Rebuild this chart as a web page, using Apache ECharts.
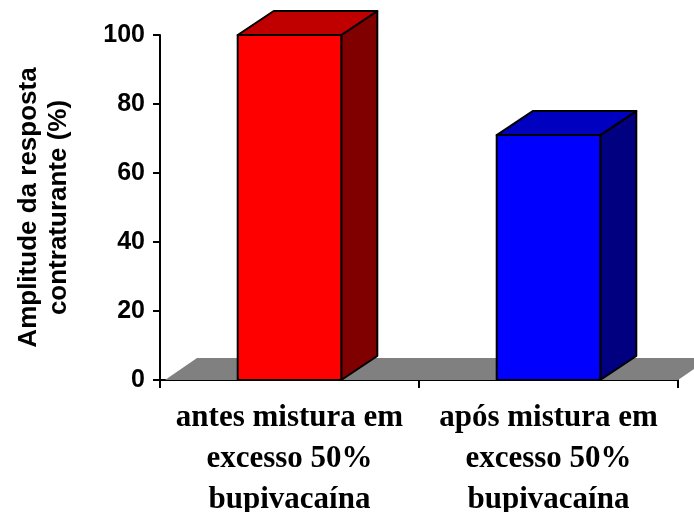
<!DOCTYPE html>
<html>
<head>
<meta charset="utf-8">
<script src="https://cdn.jsdelivr.net/npm/echarts@6/dist/echarts.min.js"></script>
<style>
  html, body { margin: 0; padding: 0; background: #fff; }
  #chart { width: 694px; height: 512px; }
</style>
</head>
<body>
<div id="chart"></div>
<script>
// Data
const categories = [
  'antes mistura em\nexcesso 50%\nbupivacaína',
  'após mistura em\nexcesso 50%\nbupivacaína'
];
const amplitudes = [100, 71];
const yTicks = [0, 20, 40, 60, 80, 100];

// Box shading: front, top, side
const palettes = [
  { front: '#FF0000', top: '#C00000', side: '#800000' },
  { front: '#0000FF', top: '#0000C0', side: '#000080' }
];
const DEPTH_X = 36, DEPTH_Y = -24;
const FLOOR_X = 32, FLOOR_Y = -22;

const chart = echarts.init(document.getElementById('chart'), null, { renderer: 'canvas' });

function renderFloor(params, api) {
  const cs = params.coordSys;
  const y0 = api.coord([0, 0])[1];
  const x0 = cs.x + 5;
  const x1 = cs.x + cs.width;
  return {
    type: 'polygon',
    shape: { points: [[x0, y0], [x0 + FLOOR_X, y0 + FLOOR_Y], [x1 + FLOOR_X, y0 + FLOOR_Y], [x1, y0]] },
    style: { fill: '#808080' },
    silent: true
  };
}

function renderBox(params, api) {
  const idx = api.value(0);
  const top = api.coord([idx, api.value(1)]);
  const base = api.coord([idx, 0]);
  const w = api.size([1, 0])[0] * 0.4;
  const xl = top[0] - w / 2, xr = top[0] + w / 2;
  const yt = top[1], yb = base[1];
  const pal = palettes[params.dataIndex];
  const stroke = { stroke: '#000', lineWidth: 2, lineJoin: 'round' };
  return {
    type: 'group',
    children: [
      {
        type: 'polygon',
        shape: { points: [[xr, yb], [xr + DEPTH_X, yb + DEPTH_Y], [xr + DEPTH_X, yt + DEPTH_Y], [xr, yt]] },
        style: Object.assign({ fill: pal.side }, stroke)
      },
      {
        type: 'polygon',
        shape: { points: [[xl, yt], [xl + DEPTH_X, yt + DEPTH_Y], [xr + DEPTH_X, yt + DEPTH_Y], [xr, yt]] },
        style: Object.assign({ fill: pal.top }, stroke)
      },
      {
        type: 'rect',
        shape: { x: xl, y: yt, width: w, height: yb - yt },
        style: Object.assign({ fill: pal.front }, stroke)
      }
    ]
  };
}

chart.setOption({
  animation: false,
  grid: { left: 160, right: 16, top: 35, bottom: 132, containLabel: false, outerBoundsMode: 'none' },
  xAxis: {
    type: 'category',
    data: categories,
    boundaryGap: true,
    axisLine: { lineStyle: { color: '#000', width: 2 } },
    axisTick: { show: true, length: 8, alignWithLabel: false, lineStyle: { color: '#000', width: 2 } },
    axisLabel: {
      interval: 0,
      margin: 17,
      color: '#000',
      fontFamily: '"Liberation Serif", "Times New Roman", serif',
      fontWeight: 'bold',
      fontSize: 31,
      lineHeight: 41,
      align: 'center'
    },
    splitLine: { show: false }
  },
  yAxis: {
    type: 'value',
    min: yTicks[0],
    max: yTicks[yTicks.length - 1],
    interval: yTicks[1] - yTicks[0],
    name: 'Amplitude da resposta\ncontraturante (%)',
    nameLocation: 'middle',
    nameRotate: 90,
    nameGap: 86,
    nameTextStyle: {
      color: '#000',
      fontFamily: '"Liberation Sans", Arial, sans-serif',
      fontWeight: 'bold',
      fontSize: 26,
      lineHeight: 30,
      align: 'center'
    },
    axisLine: { show: true, lineStyle: { color: '#000', width: 2 } },
    axisTick: { show: true, length: 7, inside: false, lineStyle: { color: '#000', width: 2 } },
    axisLabel: {
      margin: 15,
      color: '#000',
      fontFamily: '"Liberation Sans", Arial, sans-serif',
      fontWeight: 'bold',
      fontSize: 25
    },
    splitLine: { show: false }
  },
  series: [
    {
      type: 'custom',
      name: 'floor',
      renderItem: renderFloor,
      data: [[0, 0]],
      z: 1,
      silent: true
    },
    {
      type: 'custom',
      name: 'Amplitude',
      renderItem: renderBox,
      data: amplitudes.map((v, i) => [i, v]),
      encode: { x: 0, y: 1 },
      clip: false,
      z: 2
    }
  ]
});
</script>
</body>
</html>
